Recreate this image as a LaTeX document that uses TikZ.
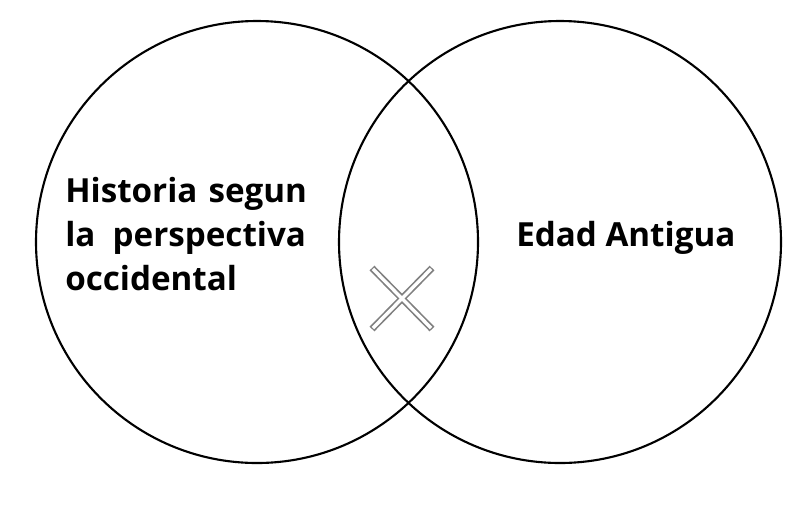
\documentclass[tikz,border=0pt]{standalone}
\usepackage{fontspec}
\setmainfont{Open Sans}
\usepackage{tikz}
\newlength\histwidth
\newcommand\tagfont{\bfseries\fontsize{23.6}{31.5}\selectfont}
\tikzset{
  ring/.style={line width=1.5pt},
  tag/.style={inner sep=0pt, font=\tagfont},
  crossout/.style={draw=gray, line width=4.8pt},
  crossin/.style={draw=white, line width=2.4pt, shorten >=0.9pt, shorten <=0.9pt}
}
\begin{document}
\settowidth{\histwidth}{\tagfont Historia segun}%
\addtolength{\histwidth}{1pt}%
\begin{tikzpicture}[x=0.025cm, y=-0.025cm]
\useasboundingbox (0, 0) rectangle (800, 515);
\fill[white] (0, 0) rectangle (800, 515);
\draw[ring] (257, 242) circle (221);
\draw[ring] (560, 242) circle (221);
\node[tag, anchor=base west, text width=\histwidth, align=left] (historia) at (65, 202) {\mbox{Historia segun}\\la\hfill perspectiva\\occidental};
\node[tag, anchor=base west] (edad) at (516, 246) {Edad Antigua};
\coordinate (a1) at (372, 268);
\coordinate (a2) at (432, 329);
\coordinate (b1) at (432, 268);
\coordinate (b2) at (372, 329);
\draw[crossout] (a1) -- (a2);
\draw[crossout] (b1) -- (b2);
\draw[crossin] (a1) -- (a2);
\draw[crossin] (b1) -- (b2);
\end{tikzpicture}
\end{document}
